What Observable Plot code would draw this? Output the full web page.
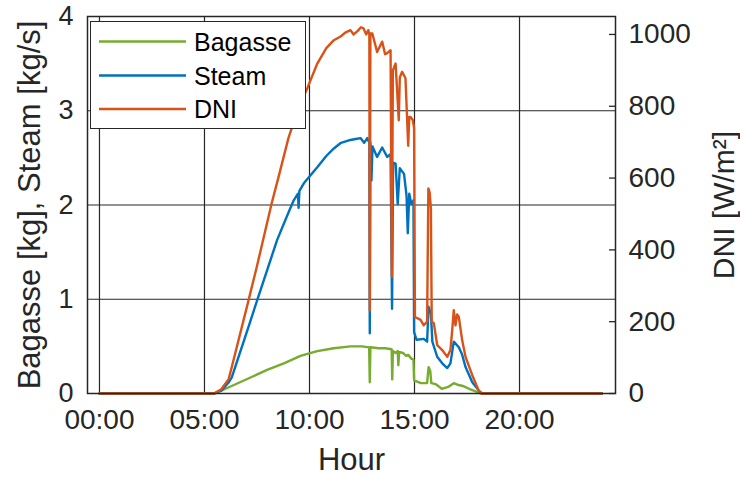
<!DOCTYPE html>
<html><head><meta charset="utf-8">
<script src="https://cdn.jsdelivr.net/npm/d3@7"></script>
<script src="https://cdn.jsdelivr.net/npm/@observablehq/plot@0.6"></script>
<style>
body{margin:0;background:#fff;}
#wrap{position:relative;width:740px;height:477px;font-family:"Liberation Sans",Arial,sans-serif;}
#wrap svg.legend{position:absolute;left:0;top:0;pointer-events:none;}
</style></head><body><div id="wrap"></div>
<script>
// ---- data (hours of day) ----
const bagasseHours = [0,5.5,6.4,7.19,7.98,8.78,9.57,10.37,11.16,11.95,12.5,12.84,12.87,12.9,13.3,13.6,13.91,13.94,13.97,14.1,14.2,14.23,14.27,14.45,14.6,14.7,14.85,14.95,14.98,15.3,15.6,15.67,15.75,15.8,16.0,16.3,16.6,16.87,17.1,17.3,17.7,18.15,23.93];
const bagasse      = [0,0,0.09,0.17,0.25,0.32,0.40,0.45,0.48,0.50,0.50,0.49,0.12,0.49,0.48,0.48,0.47,0.15,0.45,0.43,0.45,0.30,0.44,0.43,0.40,0.41,0.37,0.36,0.14,0.11,0.11,0.28,0.24,0.11,0.10,0.05,0.07,0.11,0.09,0.08,0.04,0,0];

const steamHours = [0,5.45,5.8,6.16,6.3,7.1,7.51,8.0,8.46,9.0,9.25,9.45,9.48,9.52,9.73,10.37,10.8,11.16,11.5,11.95,12.2,12.43,12.6,12.75,12.85,12.87,12.9,12.95,13.0,13.22,13.46,13.7,13.86,13.93,13.98,14.1,14.2,14.3,14.5,14.62,14.68,14.75,14.85,14.95,14.98,15.1,15.44,15.6,15.67,15.78,15.85,16.08,16.32,16.56,16.71,16.87,17.11,17.27,17.43,17.75,18.1,18.22,23.93];
const steam      = [0,0,0.03,0.12,0.17,0.71,0.99,1.32,1.63,1.92,2.05,2.12,1.97,2.15,2.23,2.40,2.52,2.60,2.66,2.69,2.70,2.71,2.66,2.71,2.66,0.64,2.66,2.26,2.62,2.51,2.61,2.51,2.54,0.90,2.45,2.44,2.01,2.39,2.33,2.10,1.70,2.12,2.01,2.05,0.65,0.57,0.58,0.55,0.92,0.85,0.55,0.39,0.32,0.27,0.32,0.55,0.49,0.41,0.28,0.12,0.02,0,0];

const dniHours = [0,5.45,5.8,6.15,6.3,7.1,7.5,8.2,8.5,9.0,9.5,9.86,10.37,10.8,11.16,11.5,11.7,11.95,12.1,12.3,12.45,12.57,12.7,12.8,12.85,12.87,12.9,12.99,13.22,13.46,13.6,13.7,13.86,13.92,13.97,14.1,14.25,14.3,14.41,14.57,14.7,14.75,14.81,14.92,14.98,15.02,15.29,15.44,15.6,15.66,15.72,15.78,15.82,15.92,16.08,16.32,16.56,16.71,16.8,16.87,16.95,17.03,17.11,17.27,17.43,17.75,18.05,18.22,23.93];
const dni      = [0,0,12,40,74,260,355,530,597,712,800,845,919,962,984,995,1005,1012,1000,1010,1020,1017,1000,1012,1000,232,1003,1003,951,980,945,948,956,325,900,919,761,880,896,878,690,770,770,761,740,213,205,190,200,571,560,516,200,196,135,121,102,121,180,232,190,220,213,148,102,51,9,0,0];

const seriesNames  = ["Bagasse","Steam","DNI"];
const seriesColors = ["#77AC30","#0072BD","#D95319"];

const xTicks    = [0,5,10,15,20];
const leftTicks = [0,1,2,3,4];
const gridTicks = [1,2,3];
const dniTicks  = [0,200,400,600,800,1000];

const xDomain = [-0.57, 24.57];
const leftMax = 4, dniMax = 1050;
const toLeft = v => v * leftMax / dniMax;

const rows = (hs, vs) => hs.map((h, i) => ({h, v: vs[i]}));
const bagasseData = rows(bagasseHours, bagasse);
const steamData   = rows(steamHours, steam);
const dniData     = rows(dniHours, dni).map(d => ({h: d.h, v: toLeft(d.v)}));

const ink = "#262626";
const fmtHour = h => String(h).padStart(2, "0") + ":00";

const chart = Plot.plot({
  width: 740, height: 477,
  marginLeft: 87, marginRight: 125, marginTop: 16, marginBottom: 84,
  style: {fontFamily: '"Liberation Sans", Arial, sans-serif', fontSize: "28px", color: ink, background: "#fff", overflow: "visible"},
  x: {domain: xDomain},
  y: {domain: [0, leftMax]},
  marks: [
    Plot.gridX(xTicks, {stroke: ink, strokeOpacity: 1, strokeWidth: 1.2}),
    Plot.gridY(gridTicks, {stroke: ink, strokeOpacity: 1, strokeWidth: 1.2}),
    Plot.line(bagasseData, {x: "h", y: "v", stroke: seriesColors[0], strokeWidth: 2.4}),
    Plot.line(steamData,   {x: "h", y: "v", stroke: seriesColors[1], strokeWidth: 2.4}),
    Plot.line(dniData,     {x: "h", y: "v", stroke: seriesColors[2], strokeWidth: 2.4}),
    Plot.ruleY(dniTicks.map(toLeft), {stroke: ink, strokeWidth: 1.3, insetLeft: 522}),
    Plot.frame({stroke: ink, strokeWidth: 1.5}),
    Plot.axisX(xTicks, {anchor: "bottom", tickSize: 0, tickPadding: 16, tickFormat: fmtHour, label: null, fontSize: 28}),
    Plot.axisY(leftTicks, {anchor: "left", tickSize: 0, tickPadding: 14, tickFormat: d => String(d), label: null, fontSize: 27}),
    Plot.axisY(dniTicks.map(toLeft), {anchor: "right", tickSize: 0, tickPadding: 13, tickFormat: d => String(Math.round(d * dniMax / leftMax)), label: null, fontSize: 28}),
    Plot.text(["Hour"], {frameAnchor: "bottom", dy: 67, fontSize: 31, lineAnchor: "middle", textAnchor: "middle", fill: ink}),
    Plot.text(["Bagasse [kg], Steam [kg/s]"], {frameAnchor: "left", dx: -57, rotate: -90, fontSize: 31, lineAnchor: "middle", textAnchor: "middle", fill: ink}),
    Plot.text(["DNI [W/m²]"], {frameAnchor: "right", dx: 109, rotate: -90, fontSize: 30, lineAnchor: "middle", textAnchor: "middle", fill: ink})
  ]
});
const wrap = document.getElementById("wrap");
wrap.appendChild(chart);

// legend (inside the axes, top-left, MATLAB style)
const lg = d3.select(wrap).append("svg").attr("class", "legend").attr("width", 740).attr("height", 477);
lg.append("rect").attr("x", 90.5).attr("y", 21.5).attr("width", 215).attr("height", 107)
  .attr("fill", "#fff").attr("stroke", ink).attr("stroke-width", 1);
const rowY = [41.5, 75.5, 109];
seriesNames.forEach((name, i) => {
  lg.append("line").attr("x1", 99).attr("x2", 186).attr("y1", rowY[i]).attr("y2", rowY[i])
    .attr("stroke", seriesColors[i]).attr("stroke-width", 2.4);
  lg.append("text").attr("x", 194).attr("y", rowY[i] + 9)
    .attr("font-family", '"Liberation Sans", Arial, sans-serif').attr("font-size", 25)
    .attr("fill", "#000").text(name);
});
</script></body></html>
